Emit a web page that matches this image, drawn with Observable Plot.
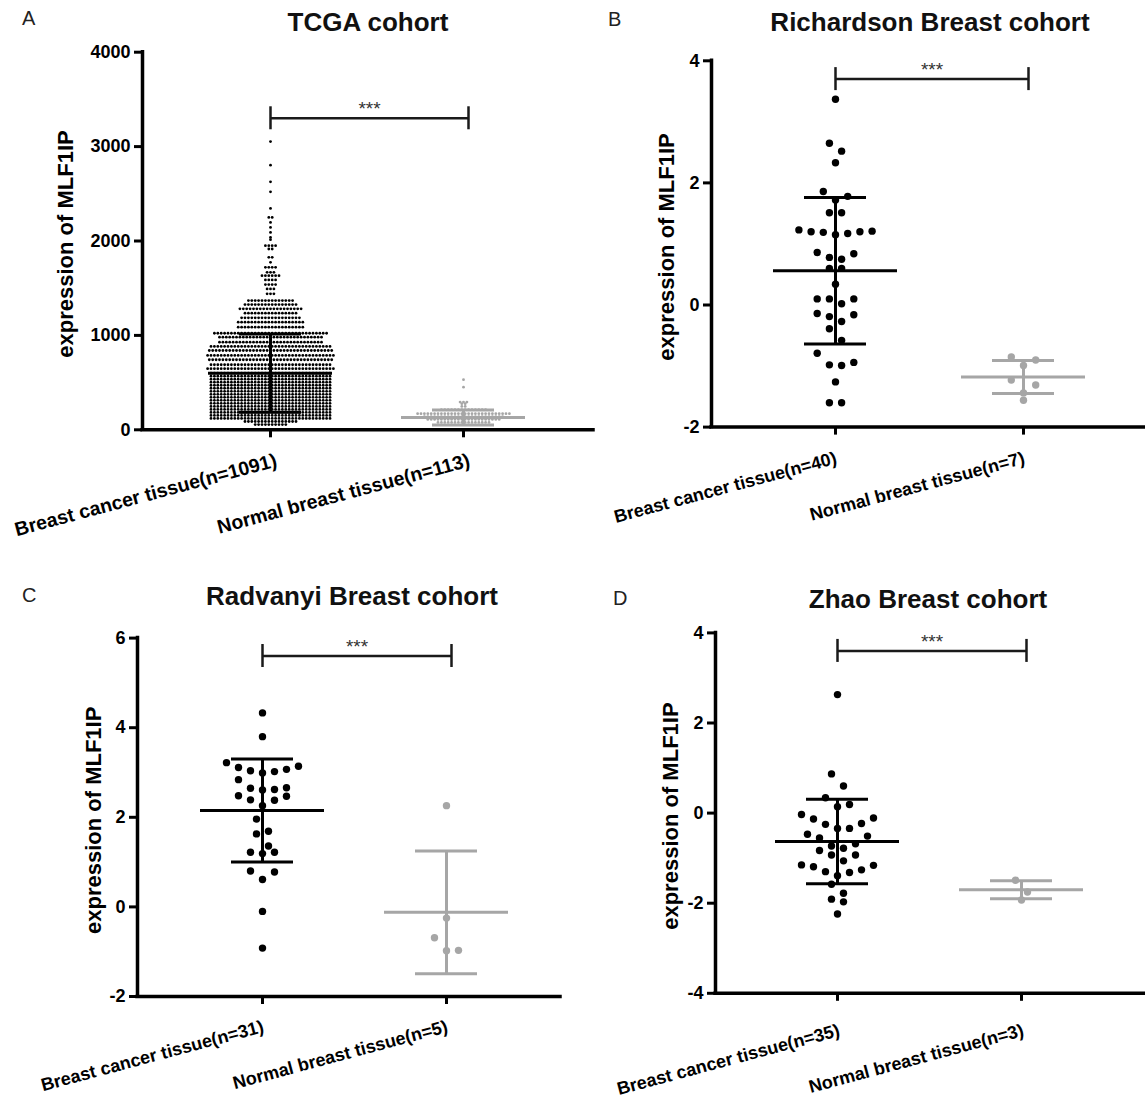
<!DOCTYPE html>
<html>
<head>
<meta charset="utf-8">
<script src="https://cdn.jsdelivr.net/npm/d3@7"></script>
<script src="https://cdn.jsdelivr.net/npm/@observablehq/plot@0.6"></script>
<style>
  body { margin: 0; background: #fff; }
  #root { position: relative; width: 1145px; height: 1099px; overflow: hidden; background: #fff;
          font-family: "Liberation Sans", Arial, Helvetica, sans-serif; }
  .panel { position: absolute; }
  .title { position: absolute; font-weight: bold; font-size: 26px; line-height: 26px; white-space: nowrap;
           color: #111; transform: translateX(-50%); }
  .letter { position: absolute; font-size: 20px; line-height: 20px; color: #222; }
</style>
</head>
<body>
<div id="root"></div>
<script>
// ---------------- DATA ----------------
const yLabel = "expression of MLF1IP";

// A: TCGA cohort — Prism rows: level value and number of dots in that row
const tcgaCategories = ["Breast cancer tissue(n=1091)", "Normal breast tissue(n=113)"];
const tcgaCancerLevels = [3053, 2803, 2627, 2521, 2345, 2250, 2197, 2144, 2091, 2038, 2014, 1950, 1915, 1827, 1774,
  1721, 1668, 1633, 1588, 1538, 1492, 1440,
  1369, 1327, 1281, 1235, 1186, 1140, 1087,
  1023, 981, 928, 883, 840, 788, 742, 689, 647,
  600, 568, 536, 504, 472, 440, 408, 376, 344, 312, 280, 248, 216, 184, 152,
  120, 88, 55];
const tcgaCancerCounts = [1, 1, 1, 1, 1, 2, 1, 1, 1, 1, 1, 4, 2, 2, 1,
  4, 3, 6, 4, 4, 3, 3,
  14, 16, 19, 16, 18, 20, 20,
  34, 31, 31, 36, 37, 38, 37, 36, 38,
  36, 36, 36, 36, 36, 36, 36, 36, 36, 36, 36, 36, 36, 36, 36,
  36, 16, 10];
const tcgaNormalLevels = [531, 452, 294, 277, 248, 213, 171, 140, 110, 78];
const tcgaNormalCounts = [1, 1, 3, 2, 2, 14, 28, 24, 22, 16];
const tcgaMeans = [600, 130];
const tcgaSDs = [415, 80];
const tcgaBracket = 3300;
const tcgaTicks = [0, 1000, 2000, 3000, 4000];

// B: Richardson Breast cohort
const richCategories = ["Breast cancer tissue(n=40)", "Normal breast tissue(n=7)"];
const richCancer = [3.37, 2.65, 2.52, 2.33, 1.86, 1.78, 1.72, 1.51, 1.51, 1.23, 1.20, 1.19, 1.15, 1.17, 1.20, 1.21,
  0.86, 0.84, 0.75, 0.78, 0.60, 0.60, 0.34, 0.10, 0.02, 0.10, 0.10, -0.16, -0.19, -0.14, -0.27, -0.39, -0.58,
  -0.79, -0.94, -0.99, -0.98, -1.26, -1.60, -1.60];
const richNormal = [-0.85, -0.90, -0.99, -1.23, -1.31, -1.44, -1.56];
const richMeans = [0.56, -1.18];
const richSDs = [1.20, 0.27];
const richBracket = 3.70;
const richTicks = [-2, 0, 2, 4];

// C: Radvanyi Breast cohort
const radCategories = ["Breast cancer tissue(n=31)", "Normal breast tissue(n=5)"];
const radCancer = [4.33, 3.80, 3.22, 3.11, 3.04, 3.02, 3.07, 3.14, 2.99, 2.66, 2.62, 2.61, 2.65, 2.84, 2.48, 2.39,
  2.38, 2.47, 2.26, 1.96, 1.63, 1.69, 1.36, 1.22, 1.19, 1.22, 0.80, 0.78, 0.61, -0.10, -0.92];
const radNormal = [2.26, -0.25, -0.69, -0.98, -0.97];
const radMeans = [2.15, -0.12];
const radSDs = [1.15, 1.37];
const radBracket = 5.6;
const radTicks = [-2, 0, 2, 4, 6];

// D: Zhao Breast cohort
const zhaoCategories = ["Breast cancer tissue(n=35)", "Normal breast tissue(n=3)"];
const zhaoCancer = [2.63, 0.87, 0.60, 0.34, 0.14, 0.19, -0.03, -0.13, -0.23, -0.25, -0.11, -0.34, -0.34, -0.51, -0.47,
  -0.73, -0.68, -0.55, -0.78, -0.93, -0.93, -1.06, -1.16, -0.83, -1.15, -1.19, -1.32, -1.30, -1.26, -1.39, -1.58,
  -1.78, -1.91, -1.97, -2.24];
const zhaoNormal = [-1.49, -1.75, -1.93];
const zhaoMeans = [-0.63, -1.70];
const zhaoSDs = [0.94, 0.20];
const zhaoBracket = 3.60;
const zhaoTicks = [-4, -2, 0, 2, 4];

// ---------------- helpers ----------------
const expand = (levels, counts) => levels.flatMap((v, i) => Array(counts[i]).fill(v));

// Prism-like scatter layout: group values into rows, spread each row centre-out
function rows(values, ppy, thresholdPx, spacingPx) {
  const desc = values.slice().sort((a, b) => b - a);
  const groups = [];
  let cur = null;
  for (const v of desc) {
    if (cur && (cur[0] - v) * ppy <= thresholdPx) cur.push(v);
    else { cur = [v]; groups.push(cur); }
  }
  const out = [];
  for (const g of groups) {
    const asc = g.slice().sort((a, b) => a - b);
    const n = asc.length, slots = [];
    if (n % 2) { slots.push(0); for (let k = 1; slots.length < n; k++) { slots.push(k); if (slots.length < n) slots.push(-k); } }
    else { for (let k = 0.5; slots.length < n; k++) { slots.push(k); slots.push(-k); } }
    asc.forEach((v, i) => out.push({ value: v, offset: slots[i] * spacingPx }));
  }
  return out;
}

const FONT = '"Liberation Sans", Arial, Helvetica, sans-serif';
const COLORS = ["#000000", "#a6a6a6"];

function makePanel(cfg) {
  const { width, height, ml, mr, mt, mb, cat, yDomain, yTicks, groups, means, sds, labels,
          r, spacing, threshold, bracket, labelDx, catDx, catDy, catFont } = cfg;
  const ppu = cat[1] - cat[0];
  const x0 = (ml - cat[0]) / ppu, x1 = (width - mr - cat[0]) / ppu;
  const ppy = (height - mt - mb) / (yDomain[1] - yDomain[0]);
  const pts = [];
  groups.forEach((vals, gi) => {
    for (const p of rows(vals, ppy, threshold, spacing)) pts.push({ x: gi + p.offset / ppu, y: p.value, g: gi });
  });
  const stats = means.map((m, i) => ({ i, mean: m, lo: m - sds[i], hi: m + sds[i] }));
  const meanHalf = 62 / ppu, capHalf = 31 / ppu;
  const bx2 = 1 + 5 / ppu, bh = 11.5 / ppy;

  return Plot.plot({
    width, height, marginLeft: ml, marginRight: mr, marginTop: mt, marginBottom: mb,
    x: { type: "linear", domain: [x0, x1], axis: null },
    y: { type: "linear", domain: yDomain, axis: null },
    style: { background: "transparent", overflow: "visible", fontFamily: FONT, color: "#000", maxWidth: "none" },
    marks: [
      // axes
      Plot.axisY({ ticks: yTicks, tickFormat: d => String(d), tickSize: 8, tickPadding: 4, strokeWidth: 3,
                   fontSize: 18, fontWeight: "bold", label: null }),
      Plot.axisX({ ticks: [0, 1], tickFormat: () => "", tickSize: 8, strokeWidth: 3, label: null }),
      Plot.text([0, 1], { x: d => d, frameAnchor: "bottom", text: i => labels[i], rotate: -15,
                          textAnchor: "end", lineAnchor: "top", dx: catDx, dy: catDy, fontSize: catFont, fontWeight: "bold" }),
      Plot.ruleX([{ x: x0 }], { x: "x", y1: yDomain[0], y2: yDomain[1], strokeWidth: 3.5, strokeLinecap: "square" }),
      Plot.ruleY([{ y: yDomain[0] }], { y: "y", x1: x0, x2: x1, strokeWidth: 3.5, strokeLinecap: "square" }),
      Plot.text([yLabel], { frameAnchor: "left", text: d => d, rotate: -90, dx: labelDx, dy: 3,
                            lineAnchor: "bottom", textAnchor: "middle", fontSize: 22, fontWeight: "bold" }),
      // dots
      Plot.dot(pts, { x: "x", y: "y", r, fill: d => COLORS[d.g], stroke: "none" }),
      // mean and SD
      Plot.ruleY(stats, { y: "mean", x1: d => d.i - meanHalf, x2: d => d.i + meanHalf, stroke: d => COLORS[d.i], strokeWidth: 3 }),
      Plot.ruleY(stats, { y: "hi", x1: d => d.i - capHalf, x2: d => d.i + capHalf, stroke: d => COLORS[d.i], strokeWidth: 3 }),
      Plot.ruleY(stats, { y: "lo", x1: d => d.i - capHalf, x2: d => d.i + capHalf, stroke: d => COLORS[d.i], strokeWidth: 3 }),
      Plot.ruleX(stats, { x: "i", y1: "lo", y2: "hi", stroke: d => COLORS[d.i], strokeWidth: 3 }),
      // significance bracket
      Plot.ruleY([{ y: bracket }], { y: "y", x1: 0, x2: bx2, stroke: "#1a1a1a", strokeWidth: 2.5 }),
      Plot.ruleX([{ x: 0 }, { x: bx2 }], { x: "x", y1: bracket - bh, y2: bracket + bh, stroke: "#1a1a1a", strokeWidth: 2.5 }),
      Plot.text(["***"], { x: bx2 / 2, y: bracket, text: d => d, dy: -3, lineAnchor: "bottom",
                           fontSize: 19, fontWeight: "normal", fill: "#333" })
    ]
  });
}

const root = document.getElementById("root");
function place(node, left, top, width) {
  const div = document.createElement("div");
  div.className = "panel";
  div.style.left = left + "px"; div.style.top = top + "px"; div.style.width = width + "px";
  div.appendChild(node);
  root.appendChild(div);
}
function addText(cls, text, left, top) {
  const d = document.createElement("div");
  d.className = cls; d.textContent = text;
  d.style.left = left + "px"; d.style.top = top + "px";
  root.appendChild(d);
}

const panels = [
  { letter: "A", title: "TCGA cohort", left: 0, top: 0, titleX: 368, titleBase: 31, letterX: 22, letterBase: 25,
    width: 595, height: 540, ml: 142, mr: 2, mt: 51.7, mb: 110.7, cat: [270, 463],
    yDomain: [0, 4000], yTicks: tcgaTicks, labels: tcgaCategories,
    groups: [expand(tcgaCancerLevels, tcgaCancerCounts), expand(tcgaNormalLevels, tcgaNormalCounts)],
    means: tcgaMeans, sds: tcgaSDs, bracket: tcgaBracket, r: 1.4, spacing: 3.4, threshold: 0.5,
    labelDx: -70, catDx: 4, catDy: 23, catFont: 19.5 },
  { letter: "B", title: "Richardson Breast cohort", left: 575, top: 0, titleX: 930, titleBase: 31, letterX: 608, letterBase: 26,
    width: 570, height: 540, ml: 136, mr: 0, mt: 60.3, mb: 113.4, cat: [260, 448],
    yDomain: [-2, 4], yTicks: richTicks, labels: richCategories,
    groups: [richCancer, richNormal], means: richMeans, sds: richSDs, bracket: richBracket,
    r: 3.7, spacing: 12.2, threshold: 14, labelDx: -38, catDx: -1, catDy: 24, catFont: 18 },
  { letter: "C", title: "Radvanyi Breast cohort", left: 0, top: 560, titleX: 352, titleBase: 605, letterX: 22, letterBase: 602,
    width: 562, height: 539, ml: 137, mr: 2, mt: 77.6, mb: 103, cat: [262, 446],
    yDomain: [-2, 6], yTicks: radTicks, labels: radCategories,
    groups: [radCancer, radNormal], means: radMeans, sds: radSDs, bracket: radBracket,
    r: 3.7, spacing: 12, threshold: 14, labelDx: -37, catDx: -1, catDy: 23, catFont: 18 },
  { letter: "D", title: "Zhao Breast cohort", left: 575, top: 560, titleX: 928, titleBase: 608, letterX: 613, letterBase: 605,
    width: 570, height: 539, ml: 140, mr: 0, mt: 72.4, mb: 106.2, cat: [262, 446],
    yDomain: [-4, 4], yTicks: zhaoTicks, labels: zhaoCategories,
    groups: [zhaoCancer, zhaoNormal], means: zhaoMeans, sds: zhaoSDs, bracket: zhaoBracket,
    r: 3.7, spacing: 12, threshold: 14, labelDx: -38, catDx: 0, catDy: 30, catFont: 18 }
];

for (const p of panels) {
  place(makePanel(p), p.left, p.top, p.width);
}
for (const p of panels) {
  addText("title", p.title, p.titleX, p.titleBase - 22);
  addText("letter", p.letter, p.letterX, p.letterBase - 17);
}
</script>
</body>
</html>
